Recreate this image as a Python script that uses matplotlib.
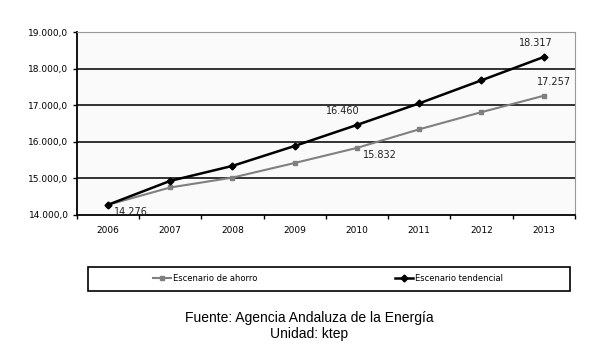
import matplotlib.pyplot as plt
from matplotlib.patches import Rectangle
from matplotlib.ticker import FuncFormatter

years = ["2006", "2007", "2008", "2009", "2010", "2011", "2012", "2013"]
ahorro = [14276, 14750, 15020, 15420, 15832, 16340, 16810, 17257]
tendencial = [14276, 14930, 15340, 15885, 16460, 17050, 17680, 18317]
yticks = [14000, 15000, 16000, 17000, 18000, 19000]


def fmt_es(v, pos=None):
    return ("{:,.1f}".format(v)).replace(",", "X").replace(".", ",").replace("X", ".")


fig = plt.figure(figsize=(6, 3.6), dpi=100)
ax = fig.add_axes([0.128, 0.403, 0.83, 0.508])
ax.set_facecolor("#fafafa")

x = list(range(len(years)))
l1, = ax.plot(x, ahorro, color="#808080", lw=1.5, marker="s", ms=2.5,
              mfc="#808080", mec="#808080", zorder=3)
l2, = ax.plot(x, tendencial, color="black", lw=1.8, marker="D", ms=3.5,
              zorder=4)

ax.set_xlim(-0.5, len(years) - 0.5)
ax.set_ylim(14000, 19000)
ax.set_yticks(yticks)
ax.yaxis.set_major_formatter(FuncFormatter(fmt_es))
ax.set_xticks(x)
ax.set_xticklabels(years)
ax.set_xticks([i - 0.5 for i in range(len(years) + 1)], minor=True)
ax.tick_params(axis="x", which="major", length=0, pad=8, labelsize=6.5)
ax.tick_params(axis="x", which="minor", length=3, width=1, direction="out")
ax.tick_params(axis="y", length=3, width=1, labelsize=6.5, pad=3)

for v in yticks[1:-1]:
    ax.axhline(v, color="#222222", lw=1.3, zorder=1)

ax.spines["left"].set_linewidth(1.3)
ax.spines["bottom"].set_linewidth(1.3)
ax.spines["top"].set_color("#999999")
ax.spines["right"].set_color("#999999")

# data labels
lab = dict(fontsize=7, color="#222222")
ax.annotate("14.276", (0, tendencial[0]), xytext=(4, -7), textcoords="offset points", **lab)
ax.annotate("16.460", (4, tendencial[4]), xytext=(-22, 8), textcoords="offset points", **lab)
ax.annotate("15.832", (4, ahorro[4]), xytext=(4, -7), textcoords="offset points", **lab)
ax.annotate("18.317", (7, tendencial[7]), xytext=(-18, 8), textcoords="offset points", **lab)
ax.annotate("17.257", (7, ahorro[7]), xytext=(-5, 8), textcoords="offset points", **lab)

# legend box
fig.patches.append(Rectangle((0.147, 0.192), 0.803, 0.067, transform=fig.transFigure,
                             fill=False, edgecolor="black", lw=1.2))
for handle, text, xpos in [(l1, "Escenario de ahorro", 0.255),
                           (l2, "Escenario tendencial", 0.658)]:
    lg = fig.legend([handle], [text], loc="center left",
                    bbox_to_anchor=(xpos, 0.2255), frameon=False, fontsize=6,
                    handlelength=2.2, handletextpad=0.2, borderaxespad=0,
                    borderpad=0)

fig.text(0.515, 0.094, "Fuente: Agencia Andaluza de la Energía\nUnidad: ktep",
         ha="center", va="center", fontsize=10, family="Liberation Sans",
         linespacing=1.2)

fig.savefig("out.png", dpi=100)
